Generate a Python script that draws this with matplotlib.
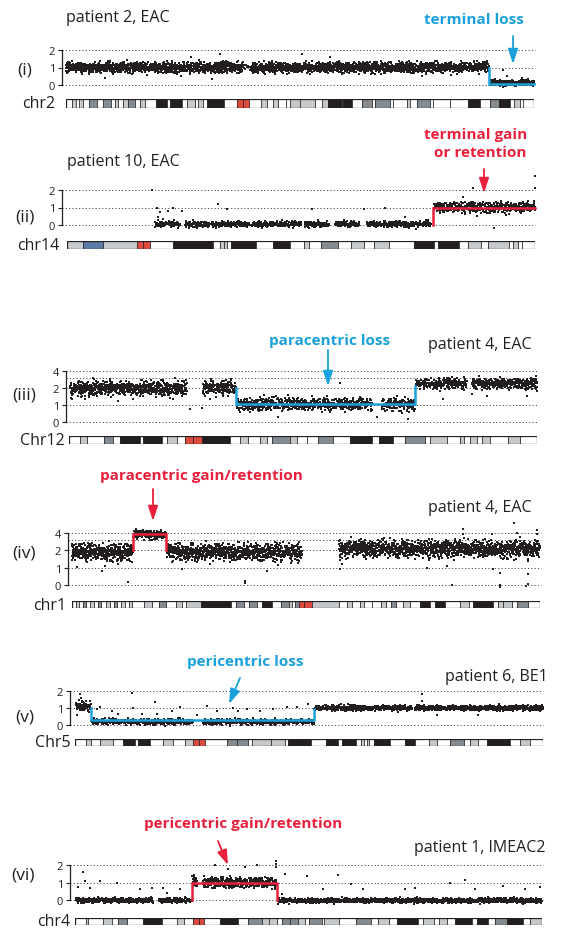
import numpy as np
import matplotlib.pyplot as plt
from matplotlib.patches import Rectangle

plt.rcParams['font.family'] = ['Open Sans', 'DejaVu Sans']

W, H = 581, 929
INK = '#231f20'
BLUE = '#1aa0db'
RED = '#e9203b'
BAND_COLORS = {'w': '#ffffff', 'l': '#c5c9cb', 'm': '#848c92', 'd': '#231f20',
               'r': '#df4a3f', 'b': '#5b7ba7'}

# chromosome lengths (Mb)
chrom_len = {'chr2': 243.2, 'chr14': 107.3, 'chr12': 133.9,
             'chr1': 249.3, 'chr5': 180.9, 'chr4': 191.2}

# cytobands: (relative width, stain)
bands_chr2 = [(6, 'w'), (4, 'l'), (3, 'w'), (4, 'l'), (6, 'w'), (8, 'm'), (6, 'w'), (8, 'm'), (4, 'w'),
              (3, 'l'), (5, 'w'), (5, 'l'), (7, 'm'), (5, 'w'), (5, 'l'), (11, 'w'), (11, 'd'), (3, 'w'),
              (12, 'd'), (5, 'w'), (8, 'l'), (3, 'w'), (5, 'l'), (4, 'w'), (17, 'd'), (13, 'w'), (6, 'r'),
              (6, 'r'), (12, 'w'), (6, 'l'), (6, 'w'), (5, 'l'), (8, 'w'), (4, 'w'), (10, 'l'), (15, 'l'),
              (7, 'w'), (6, 'l'), (14, 'd'), (1, 'w'), (9, 'd'), (10, 'w'), (10, 'm'), (3, 'w'), (15, 'm'),
              (3, 'w'), (14, 'w'), (3, 'l'), (7, 'w'), (13, 'm'), (3, 'w'), (17, 'w'), (18, 'w'), (12, 'd'),
              (10, 'w'), (9, 'm'), (11, 'd'), (4, 'w'), (6, 'l'), (3, 'w'), (11, 'w')]
bands_chr14 = [(16, 'l'), (20, 'b'), (34, 'l'), (6, 'r'), (7, 'r'), (23, 'w'), (40, 'd'), (7, 'w'), (4, 'l'),
               (3, 'l'), (4, 'w'), (25, 'd'), (17, 'w'), (17, 'd'), (13, 'w'), (5, 'l'), (12, 'w'), (17, 'm'),
               (13, 'w'), (13, 'l'), (10, 'w'), (15, 'l'), (25, 'w'), (20, 'd'), (4, 'w'), (21, 'd'), (9, 'w'),
               (13, 'l'), (7, 'w'), (21, 'l'), (4, 'w'), (5, 'l'), (4, 'w'), (13, 'w')]
bands_chr12 = [(11, 'w'), (7, 'l'), (17, 'w'), (9, 'm'), (7, 'w'), (20, 'd'), (3, 'w'), (19, 'd'), (5, 'w'),
               (10, 'l'), (8, 'w'), (8, 'r'), (9, 'r'), (28, 'd'), (10, 'w'), (8, 'l'), (12, 'w'), (7, 'l'),
               (5, 'w'), (18, 'm'), (7, 'l'), (10, 'w'), (11, 'w'), (15, 'm'), (17, 'w'), (22, 'd'), (7, 'w'),
               (14, 'd'), (12, 'w'), (20, 'm'), (5, 'w'), (17, 'l'), (13, 'w'), (4, 'l'), (6, 'w'), (7, 'l'),
               (5, 'w'), (8, 'l'), (18, 'w'), (12, 'l'), (17, 'w')]
bands_chr1 = [(4, 'w'), (3, 'l'), (4, 'w'), (3, 'm'), (4, 'w'), (4, 'l'), (4, 'w'), (3, 'm'), (5, 'w'),
              (4, 'l'), (4, 'w'), (3, 'm'), (4, 'w'), (4, 'l'), (4, 'w'), (3, 'l'), (12, 'w'), (8, 'l'),
              (7, 'w'), (7, 'm'), (10, 'w'), (6, 'l'), (4, 'w'), (15, 'l'), (30, 'd'), (5, 'w'), (8, 'm'),
              (5, 'w'), (8, 'm'), (5, 'w'), (10, 'd'), (9, 'w'), (8, 'm'), (3, 'l'), (3, 'w'), (4, 'm'),
              (5, 'r'), (8, 'r'), (27, 'l'), (8, 'w'), (5, 'l'), (8, 'w'), (4, 'l'), (8, 'w'), (9, 'w'),
              (5, 'l'), (5, 'w'), (5, 'm'), (7, 'w'), (7, 'l'), (10, 'w'), (10, 'd'), (5, 'w'), (10, 'd'),
              (15, 'w'), (9, 'l'), (4, 'w'), (20, 'd'), (5, 'w'), (5, 'l'), (9, 'l'), (5, 'w'), (11, 'm'),
              (12, 'w')]
bands_chr5 = [(11, 'w'), (5, 'l'), (9, 'w'), (13, 'l'), (10, 'w'), (13, 'd'), (3, 'w'), (12, 'd'), (13, 'w'),
              (10, 'l'), (12, 'w'), (8, 'l'), (6, 'r'), (6, 'r'), (22, 'w'), (10, 'm'), (11, 'm'), (5, 'w'),
              (19, 'l'), (14, 'l'), (3, 'w'), (23, 'd'), (15, 'w'), (12, 'd'), (4, 'w'), (14, 'd'), (5, 'w'),
              (3, 'l'), (3, 'w'), (3, 'l'), (5, 'w'), (16, 'd'), (15, 'w'), (10, 'd'), (14, 'w'), (8, 'l'),
              (13, 'w'), (14, 'm'), (6, 'w'), (8, 'l'), (10, 'w'), (23, 'd'), (10, 'w'), (10, 'l'), (13, 'w')]
bands_chr4 = [(11, 'w'), (2, 'l'), (15, 'w'), (9, 'l'), (6, 'w'), (9, 'm'), (16, 'w'), (19, 'd'), (15, 'w'),
              (7, 'l'), (9, 'w'), (6, 'r'), (5, 'r'), (16, 'w'), (18, 'd'), (10, 'w'), (14, 'm'), (7, 'l'),
              (8, 'l'), (5, 'w'), (8, 'm'), (8, 'm'), (7, 'l'), (3, 'w'), (13, 'm'), (2, 'w'), (15, 'l'),
              (17, 'w'), (15, 'm'), (7, 'w'), (11, 'l'), (8, 'w'), (21, 'd'), (5, 'w'), (11, 'l'), (5, 'w'),
              (8, 'l'), (8, 'w'), (17, 'd'), (5, 'w'), (11, 'd'), (7, 'w'), (12, 'm'), (16, 'd'), (7, 'w'),
              (12, 'l')]

# copy-number segments: start/end (Mb), level, spread, probe count
p1_start = [0.0, 92.0, 96.5, 220.3]
p1_end = [92.0, 96.5, 220.0, 243.2]
p1_level = [1.0, 1.0, 1.0, 0.12]
p1_sd = [0.15, 0.15, 0.15, 0.08]
p1_n = [1250, 10, 1600, 300]
p1_out_x = [20.2, 60.0, 76.0, 80.0, 65.0, 122.5, 137.0, 219.0, 227.0, 229.0, 237.0]
p1_out_y = [0.4, 0.5, 0.34, 1.77, 1.58, 1.79, 1.6, 1.4, 0.87, 0.5, 0.4]
p1_step_x = [220.0, 220.0, 243.2]
p1_step_y = [1.0, 0.03, 0.03]

p2_start = [20.2, 27.0, 33.2, 42.4, 51.3, 54.5, 61.4, 68.7, 84.0]
p2_end = [25.9, 32.7, 41.9, 51.1, 53.8, 60.2, 67.1, 83.4, 107.3]
p2_level = [0.05, 0.05, 0.05, 0.05, 0.05, 0.05, 0.05, 0.05, 1.02]
p2_sd = [0.09, 0.09, 0.09, 0.09, 0.09, 0.09, 0.09, 0.09, 0.16]
p2_n = [90, 90, 140, 140, 40, 90, 90, 230, 450]
p2_out_x = [19.5, 20.6, 21.3, 23.1, 24.3, 26.3, 34.6, 36.6, 20.8, 22.0, 56.1, 68.0, 72.8, 77.4,
            107.2, 107.2, 93.0, 98.0, 90.7, 94.1]
p2_out_y = [2.0, 1.0, 0.73, 0.8, 1.0, 0.8, 1.2, 0.9, 0.45, 0.35, 0.9, 0.9, 1.0, 0.45,
            2.8, 2.1, 2.1, -0.15, 1.6, 0.5]
p2_step_x = [83.8, 83.8, 107.3]
p2_step_y = [0.0, 1.0, 1.0]

p3_start = [0.3, 38.3, 47.9, 89.5, 99.2, 115.3]
p3_end = [33.7, 47.8, 86.7, 99.0, 113.8, 133.9]
p3_level = [2.0, 2.05, 1.05, 1.05, 2.4, 2.4]
p3_sd = [0.21, 0.21, 0.19, 0.19, 0.16, 0.16]
p3_n = [750, 200, 650, 160, 240, 320]
p3_out_x = [0.9, 4.6, 14.0, 18.3, 29.7, 34.6, 38.0, 40.3, 59.8, 48.9, 88.0, 97.0, 77.5, 107.0,
            115.3, 119.5, 131.0, 133.8]
p3_out_y = [1.35, 1.35, 1.26, 1.35, 1.35, 0.77, 0.81, 1.35, 0.29, 0.58, 0.29, 0.19, 2.5, 1.35,
            1.64, 1.55, 1.55, 1.84]
p3_step_x = [47.8, 47.8, 99.0, 99.0]
p3_step_y = [2.0, 1.05, 1.05, 2.2]

p4_start = [0.0, 32.7, 50.3, 142.3]
p4_end = [32.4, 50.0, 122.6, 249.3]
p4_level = [1.9, 3.75, 1.9, 2.12]
p4_sd = [0.24, 0.11, 0.24, 0.23]
p4_n = [480, 220, 900, 1500]
p4_out_x = [2.7, 16.0, 17.6, 29.9, 58.6, 92.2, 92.2, 103.9, 42.6, 142.8, 143.9, 142.8, 189.0, 199.9,
            202.5, 208.4, 208.4, 223.9, 228.0, 228.0, 228.0, 235.6, 237.2, 243.0, 243.0, 241.6,
            247.8, 247.8, 224.4]
p4_out_y = [1.06, 0.81, 1.09, 0.19, 0.9, 0.25, 0.11, 0.81, 3.03, 0.9, 1.2, 1.47, 1.0, 1.1,
            0.0, 4.69, 3.84, 3.84, 0.72, 0.0, -0.13, 6.06, 4.0, 0.62, 0.06, -0.04,
            4.6, 3.86, 0.9]
p4_step_x = [32.5, 32.5, 50.1, 50.1]
p4_step_y = [2.0, 3.8, 3.8, 2.0]

p5_start = [0.4, 6.3, 49.5, 92.5, 131.4]
p5_end = [6.2, 45.6, 92.4, 130.2, 180.9]
p5_level = [1.05, 0.2, 0.2, 1.0, 1.0]
p5_sd = [0.17, 0.085, 0.085, 0.075, 0.075]
p5_n = [70, 420, 450, 480, 650]
p5_out_x = [1.9, 2.7, 0.8, 9.7, 8.5, 14.3, 22.0, 22.4, 30.9, 31.7, 40.6, 37.5, 51.0, 54.9, 61.0,
            63.0, 66.5, 71.5, 76.5, 81.9, 16.6, 25.9, 47.2, 59.9, 85.8, 90.0, 134.0, 134.0, 139.9,
            155.8, 2.2, 1.5]
p5_out_y = [1.81, 1.42, 0.56, 1.04, 0.94, 0.85, 1.9, 1.0, 1.33, 0.65, 1.04, 0.85, 1.13, 0.85, 1.0,
            0.85, 0.94, 0.85, 0.94, 1.04, 0.65, 0.65, 0.56, -0.06, 1.04, 1.23, 1.81, 1.42, 0.56,
            0.56, 1.6, 1.5]
p5_step_x = [6.2, 6.2, 92.4, 92.4]
p5_step_y = [1.0, 0.3, 0.3, 0.95]

p6_start = [0.4, 34.4, 48.2, 52.4, 82.9]
p6_end = [31.9, 47.8, 49.9, 82.5, 191.2]
p6_level = [-0.02, -0.02, 1.05, 1.0, -0.03]
p6_sd = [0.065, 0.065, 0.14, 0.14, 0.065]
p6_n = [420, 180, 25, 480, 1500]
p6_out_x = [3.4, 4.1, 1.3, 6.2, 10.2, 17.2, 26.6, 31.5, 36.0, 37.7, 43.0, 47.9, 48.3, 57.3, 62.6,
            69.6, 74.5, 82.3, 82.3, 82.3, 84.7, 86.0, 107.7, 95.0, 112.9, 117.9, 135.1, 139.2,
            153.5, 159.7, 163.8, 175.2, 184.2, 190.4, 101.5]
p6_out_y = [1.6, 1.1, 0.77, 0.71, 1.1, 1.0, 0.62, 0.71, 0.71, 0.42, 0.62, 1.38, 0.9, 2.0, 1.77,
            1.87, 2.0, 2.25, 2.05, 1.87, 0.33, 1.48, 1.42, 1.35, 0.9, 0.62, 0.62, 0.71,
            1.0, 1.13, 0.62, 0.8, 0.62, 0.77, 0.62]
p6_step_x = [47.9, 47.9, 82.7, 82.7]
p6_step_y = [0.0, 1.0, 1.0, 0.0]


def cn_axis(v):
    # axis is linear up to 2 copies, then log2 (2 -> 4 takes one unit)
    v = np.asarray(v, dtype=float)
    return np.where(v <= 2, v, 2 + np.log2(np.maximum(v, 2) / 2))


def ident(v):
    return np.asarray(v, dtype=float)


def hash_u(n, seed):
    i = np.arange(1, n + 1, dtype=float)
    return np.modf(np.abs(np.sin(i * 12.9898 + seed * 78.233)) * 43758.5453)[0]


def bell(n, seed):
    s = hash_u(n, seed) + hash_u(n, seed + 1.37) + hash_u(n, seed + 2.71) + hash_u(n, seed + 3.93)
    return (s - 2.0) * np.sqrt(3.0)


def rect(left, top, right, bottom):
    return [left / W, 1 - bottom / H, (right - left) / W, (bottom - top) / H]


fig = plt.figure(figsize=(W / 100, H / 100), dpi=100)


def draw_panel(chrom, bands, seg, outl, step, step_color, tf, ymax, ticks, ticklabels, grid,
               box, ideo, seed):
    axL, axR, ytop, ybot = box
    cs, ce, it, ib = ideo
    L = chrom_len[chrom]
    s = L / (ce - cs)

    ax = fig.add_axes(rect(axL, ytop, axR, ybot))
    ax.set_xlim((axL - cs) * s, (axR - cs) * s)
    ax.set_ylim(0, ymax)
    for g in grid:
        ax.axhline(g, color='#4a4a4a', lw=0.7, ls=(0, (1.2, 2.2)), clip_on=False, zorder=1)

    xs, ys = [], []
    for k, (a, b, lv, sd, n) in enumerate(zip(*seg)):
        u = hash_u(n, seed + k * 7.1)
        xs.append(a + (b - a) * (np.arange(n) + u) / n)
        ys.append(tf(lv) + sd * bell(n, seed + k * 7.1 + 0.5))
    xs.append(np.asarray(outl[0]))
    ys.append(tf(outl[1]))
    ax.scatter(np.concatenate(xs), np.concatenate(ys), s=3.0, marker='s', lw=0,
               color=INK, clip_on=False, zorder=2)
    ax.plot(step[0], tf(step[1]), color=step_color, lw=1.8, clip_on=False, zorder=3,
            solid_joinstyle='miter')

    for side in ['top', 'right', 'bottom']:
        ax.spines[side].set_visible(False)
    ax.spines['left'].set_color(INK)
    ax.spines['left'].set_linewidth(0.9)
    ax.set_xticks([])
    ax.set_yticks(ticks)
    ax.set_yticklabels(ticklabels)
    ax.tick_params(axis='y', length=3, width=0.8, color=INK, labelsize=8,
                   labelcolor=INK, pad=2)
    ax.patch.set_alpha(0)

    # ideogram
    ia = fig.add_axes(rect(cs, it, ce, ib))
    ia.set_xlim(0, L)
    ia.set_ylim(0, 1)
    ia.axis('off')
    widths = np.array([w for w, _ in bands], dtype=float)
    edges = np.concatenate([[0], np.cumsum(widths)]) / widths.sum() * L
    for (w, c), x0, x1 in zip(bands, edges[:-1], edges[1:]):
        ia.add_patch(Rectangle((x0, 0), x1 - x0, 1, facecolor=BAND_COLORS[c],
                               edgecolor=INK, lw=0.5))
    ia.add_patch(Rectangle((0, 0), L, 1, facecolor='none', edgecolor=INK, lw=0.9))


lin = [0, 1, 2]
draw_panel('chr2', bands_chr2, (p1_start, p1_end, p1_level, p1_sd, p1_n), (p1_out_x, p1_out_y),
           (p1_step_x, p1_step_y), BLUE, ident, 2, lin, ['0', '1', '2'], [0, 1, 2],
           (62, 535, 51, 86), (66, 534, 100, 109), 1)
draw_panel('chr14', bands_chr14, (p2_start, p2_end, p2_level, p2_sd, p2_n), (p2_out_x, p2_out_y),
           (p2_step_x, p2_step_y), RED, ident, 2, lin, ['0', '1', '2'], [0, 1, 2],
           (62, 535, 191, 226), (67, 535, 242, 250), 2)
draw_panel('chr12', bands_chr12, (p3_start, p3_end, p3_level, p3_sd, p3_n), (p3_out_x, p3_out_y),
           (p3_step_x, p3_step_y), BLUE, cn_axis, 3, [0, 1, 2, 3], ['0', '1', '2', '4'],
           [0, 1, 2, float(cn_axis(3)), 3], (66, 537, 372, 423), (69, 537, 437, 445), 3)
draw_panel('chr1', bands_chr1, (p4_start, p4_end, p4_level, p4_sd, p4_n), (p4_out_x, p4_out_y),
           (p4_step_x, p4_step_y), RED, cn_axis, 3, [0, 1, 2, 3], ['0', '1', '2', '4'],
           [0, 1, 2, float(cn_axis(3)), 3], (68, 541, 534, 586), (72, 540, 602, 609), 4)
draw_panel('chr5', bands_chr5, (p5_start, p5_end, p5_level, p5_sd, p5_n), (p5_out_x, p5_out_y),
           (p5_step_x, p5_step_y), BLUE, ident, 2, lin, ['0', '1', '2'], [0, 1, 2],
           (70, 543, 692, 726), (75, 543, 740, 747), 5)
draw_panel('chr4', bands_chr4, (p6_start, p6_end, p6_level, p6_sd, p6_n), (p6_out_x, p6_out_y),
           (p6_step_x, p6_step_y), RED, ident, 2, lin, ['0', '1', '2'], [0, 1, 2],
           (70, 543, 866, 901), (75, 542, 919, 926), 6)

# overlay in pixel coordinates for labels and arrows
ov = fig.add_axes([0, 0, 1, 1])
ov.set_xlim(0, W)
ov.set_ylim(H, 0)
ov.axis('off')
ov.patch.set_alpha(0)

patients = [('patient 2, EAC', 66, 18, 'left'), ('patient 10, EAC', 67, 162, 'left'),
            ('patient 4, EAC', 532, 345, 'right'), ('patient 4, EAC', 532, 508, 'right'),
            ('patient 6, BE1', 548, 677, 'right'), ('patient 1, IMEAC2', 545, 848, 'right')]
for t, x, y, ha in patients:
    ov.text(x, y, t, ha=ha, va='center', fontsize=11.5, color=INK)

for t, x, y in [('(i)', 17, 70), ('(ii)', 15, 217), ('(iii)', 12, 395), ('(iv)', 12, 554),
                ('(v)', 15, 717), ('(vi)', 11, 876)]:
    ov.text(x, y, t, ha='left', va='center', fontsize=12.5, color=INK)

for t, x, y in [('chr2', 22, 104), ('chr14', 17, 246), ('Chr12', 20, 441), ('chr1', 33, 606),
                ('Chr5', 35, 743), ('chr4', 37, 922)]:
    ov.text(x, y, t, ha='left', va='center', fontsize=11.5, color=INK)

notes = [('terminal loss', 474, 20, 'center', BLUE),
         ('terminal gain', 527, 135, 'right', RED), ('or retention', 527, 153, 'right', RED),
         ('paracentric loss', 330, 341, 'center', BLUE),
         ('paracentric gain/retention', 201, 476, 'center', RED),
         ('pericentric loss', 245, 662, 'center', BLUE),
         ('pericentric gain/retention', 243, 824, 'center', RED)]
for t, x, y, ha, c in notes:
    ov.text(x, y, t, ha=ha, va='center', fontsize=11, fontweight='bold', color=c)

arrows = [((513, 37), (513, 65), BLUE), ((484, 170), (484, 194), RED),
          ((328, 351), (328, 387), BLUE), ((153, 490), (153, 522), RED),
          ((240, 679), (229, 705), BLUE), ((218, 842), (228, 866), RED)]
for p0, p1, c in arrows:
    ov.annotate('', xy=p1, xytext=p0,
                arrowprops=dict(arrowstyle='-|>,head_length=0.9,head_width=0.3', color=c,
                                lw=1.3, mutation_scale=10, shrinkA=0, shrinkB=0))

fig.savefig('out.png', dpi=100)
